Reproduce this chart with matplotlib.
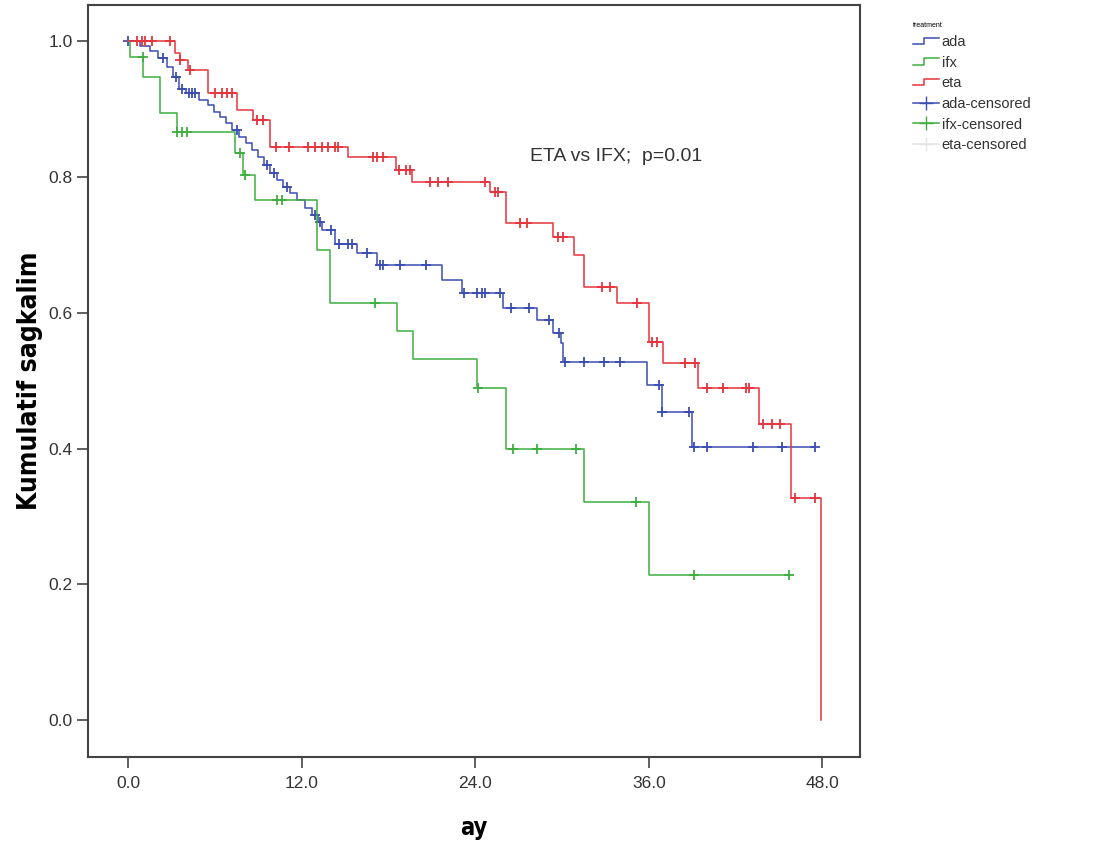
import matplotlib
matplotlib.use('Agg')
import matplotlib.pyplot as plt
import numpy as np
from matplotlib.lines import Line2D
from matplotlib.legend_handler import HandlerBase

plt.rcParams['font.family'] = ['Liberation Sans', 'DejaVu Sans']

# Kaplan-Meier step data (month, survival after event)
ada_t = [0, 0.83, 1.52, 2.07, 2.70, 3.11, 3.53, 4.01, 4.91, 5.53, 5.95, 6.36, 6.78, 7.19,
         7.68, 8.16, 8.58, 8.99, 9.41, 9.82, 10.3, 10.72, 11.2, 11.69, 12.24, 12.72, 13.14,
         13.42, 14.32, 15.84, 17.22, 21.7, 23.1, 25.9, 28.3, 29.4, 29.9, 30.1, 35.9, 36.9, 39.0]
ada_s = [1.0, 0.993, 0.985, 0.975, 0.962, 0.947, 0.93, 0.923, 0.913, 0.906, 0.895, 0.888, 0.879,
         0.869, 0.859, 0.85, 0.84, 0.829, 0.818, 0.806, 0.795, 0.785, 0.776, 0.766, 0.755, 0.744,
         0.733, 0.722, 0.702, 0.688, 0.67, 0.648, 0.629, 0.607, 0.589, 0.57, 0.555, 0.527, 0.493,
         0.454, 0.402]
ada_end = 47.5
ada_cens = [0.0, 2.4, 3.3, 3.7, 4.2, 4.4, 4.6, 7.5, 9.6, 10.1, 11.0, 12.9, 13.3, 14.0, 14.6,
            15.2, 15.5, 16.5, 17.4, 17.6, 18.8, 20.6, 23.2, 24.1, 24.5, 24.7, 25.7, 26.5, 27.7,
            29.1, 29.8, 30.2, 31.5, 32.9, 34.0, 36.7, 36.9, 38.8, 39.1, 40.0, 43.2, 45.2, 47.5]

ifx_t = [0, 0.14, 1.04, 2.21, 3.39, 7.4, 7.95, 8.78, 13.07, 13.97, 18.6, 19.7, 24.1, 26.1, 31.5, 36.0]
ifx_s = [1.0, 0.977, 0.947, 0.894, 0.866, 0.835, 0.803, 0.766, 0.692, 0.614, 0.573, 0.532, 0.49,
         0.40, 0.321, 0.214]
ifx_end = 45.7
ifx_cens = [1.0, 3.4, 3.7, 4.1, 7.75, 8.1, 10.3, 10.65, 17.1, 24.2, 26.6, 28.3, 31.0, 35.1, 39.1, 45.7]

eta_t = [0, 3.25, 3.6, 4.15, 5.53, 7.54, 8.64, 9.82, 15.2, 18.5, 19.6, 25.0, 26.1, 29.4, 30.8,
         31.5, 33.8, 36.0, 37.0, 39.4, 43.6, 45.8, 47.9]
eta_s = [1.0, 0.982, 0.972, 0.957, 0.923, 0.898, 0.884, 0.844, 0.829, 0.81, 0.792, 0.778, 0.732,
         0.711, 0.685, 0.638, 0.614, 0.557, 0.526, 0.49, 0.436, 0.327, 0.0]
eta_end = 47.9
eta_cens = [0.62, 0.97, 1.18, 1.66, 2.9, 3.6, 4.3, 6.0, 6.5, 6.85, 7.2, 8.9, 9.3, 10.2, 11.1,
            12.45, 12.9, 13.4, 13.8, 14.3, 14.5, 16.9, 17.2, 17.6, 18.7, 19.2, 19.5, 20.9, 21.4,
            22.1, 24.7, 25.4, 25.6, 27.1, 27.6, 29.7, 30.1, 32.8, 33.3, 35.2, 36.2, 36.6, 38.5,
            39.2, 40.0, 41.1, 42.7, 42.9, 43.9, 44.5, 45.1, 46.1, 47.5]

groups = ['ada', 'ifx', 'eta']
colors = {'ada': '#3b4db3', 'ifx': '#3fae3f', 'eta': '#e5343c'}
data = {'ada': (ada_t, ada_s, ada_end, ada_cens),
        'ifx': (ifx_t, ifx_s, ifx_end, ifx_cens),
        'eta': (eta_t, eta_s, eta_end, eta_cens)}


def surv_at(t, s, x):
    i = np.searchsorted(t, x, side='right') - 1
    return np.array(s)[i]


fig = plt.figure(figsize=(10.93, 8.57), dpi=100)
ax = fig.add_axes([0.0805, 0.1167, 0.7063, 0.8773])

for g in groups:
    t, s, end, cens = data[g]
    tt = list(t) + [end]
    ss = list(s) + [s[-1]]
    ax.step(tt, ss, where='post', color=colors[g], lw=1.1)
    cx = np.array(cens)
    ax.plot(cx, surv_at(t, s, cx), ls='none', marker='+', ms=7, mew=1.3, color=colors[g])

ax.set_xlim(-2.77, 50.6)
ax.set_ylim(-0.054, 1.053)
ax.set_xticks([0, 12, 24, 36, 48])
ax.set_xticklabels(['0.0', '12.0', '24.0', '36.0', '48.0'])
ax.set_yticks([0, 0.2, 0.4, 0.6, 0.8, 1.0])
ax.set_yticklabels(['0.0', '0.2', '0.4', '0.6', '0.8', '1.0'])
ax.tick_params(direction='out', length=8, width=1.2, colors='#444444', labelsize=12.5,
               labelcolor='#333333', pad=3)
ax.tick_params(axis='x', pad=6)
for sp in ax.spines.values():
    sp.set_linewidth(1.5)
    sp.set_color('#444444')

ax.set_xlabel('ay', fontsize=17, fontweight='bold', labelpad=18,
              family=['DejaVu Sans'], fontstretch='condensed')
ax.set_ylabel('Kumulatif sagkalim', fontsize=19, fontweight='bold', labelpad=4,
              family=['DejaVu Sans'], fontstretch='condensed')

ax.text(27.8, 0.83, 'ETA vs IFX;  p=0.01', fontsize=14, color='#333333', va='center')


class StepHandler(HandlerBase):
    def create_artists(self, legend, orig_handle, xdescent, ydescent, width, height, fontsize, trans):
        x = [-xdescent, -xdescent + width * 0.45, -xdescent + width * 0.45, -xdescent + width]
        y = [-ydescent + height * 0.2, -ydescent + height * 0.2, -ydescent + height * 0.85,
             -ydescent + height * 0.85]
        ln = Line2D(x, y, color=orig_handle.get_color(), lw=1.1, transform=trans)
        return [ln]


handles = [Line2D([], [], color=colors['ada']),
           Line2D([], [], color=colors['ifx']),
           Line2D([], [], color=colors['eta']),
           Line2D([], [], color=colors['ada'], marker='+', ms=10, lw=1.1),
           Line2D([], [], color=colors['ifx'], marker='+', ms=10, lw=1.1),
           Line2D([], [], color='#e6e2e6', marker='+', ms=10, lw=1.1)]
labels = ['ada', 'ifx', 'eta', 'ada-censored', 'ifx-censored', 'eta-censored']
hmap = {handles[0]: StepHandler(), handles[1]: StepHandler(), handles[2]: StepHandler()}
leg = fig.legend(handles, labels, handler_map=hmap, loc='upper left',
                 bbox_to_anchor=(0.823, 0.99), frameon=False, fontsize=10.5,
                 title='treatment', title_fontsize=5, handlelength=1.8,
                 handletextpad=0.2, labelspacing=0.45)
leg._legend_box.align = 'left'
for txt in leg.get_texts():
    txt.set_color('#333333')

fig.savefig('out.png', dpi=100)
